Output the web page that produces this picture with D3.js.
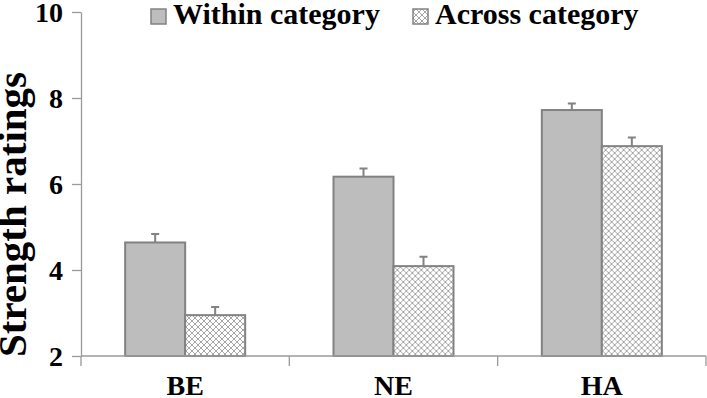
<!DOCTYPE html>
<html>
<head>
<meta charset="utf-8">
<script src="https://cdn.jsdelivr.net/npm/d3@7"></script>
<style>
  body { margin: 0; background: #fff; }
  text { font-family: "Liberation Serif", "Times New Roman", serif; font-weight: bold; fill: #000; }
</style>
</head>
<body>
<div id="chart"></div>
<script>
var categories = ["BE", "NE", "HA"];
var seriesNames = ["Within category", "Across category"];
var withinValues = [4.64, 6.17, 7.72];
var withinErrors = [0.20, 0.19, 0.15];
var acrossValues = [2.95, 4.09, 6.88];
var acrossErrors = [0.19, 0.22, 0.20];
var yTicks = [2, 4, 6, 8, 10];

var width = 707, height = 398;
var plotLeft = 81, plotRight = 706, plotTop = 12, plotBottom = 356;

var svg = d3.select("#chart").append("svg")
    .attr("width", width)
    .attr("height", height);

// patterns
var defs = svg.append("defs");
var hatch = defs.append("pattern")
    .attr("id", "hatch")
    .attr("patternUnits", "userSpaceOnUse")
    .attr("width", 6)
    .attr("height", 6);
hatch.append("rect").attr("width", 6).attr("height", 6).attr("fill", "#fff");
hatch.append("path")
    .attr("d", "M0,0L6,6M6,0L0,6")
    .attr("stroke", "#a6a6a6")
    .attr("stroke-width", 1);

var fills = ["#bdbdbd", "url(#hatch)"];

var x = d3.scaleBand()
    .domain(categories)
    .range([plotLeft, plotRight])
    .padding(0);

var x1 = d3.scaleBand()
    .domain(seriesNames)
    .range([0, x.bandwidth()])
    .paddingInner(0)
    .paddingOuter(0.736);

var y = d3.scaleLinear()
    .domain([2, 10])
    .range([plotBottom, plotTop]);

var data = categories.map(function(c, i) {
    return [
        {cat: c, s: seriesNames[0], v: withinValues[i], e: withinErrors[i]},
        {cat: c, s: seriesNames[1], v: acrossValues[i], e: acrossErrors[i]}
    ];
});

// y axis
var yAxis = svg.append("g")
    .attr("transform", "translate(" + plotLeft + ",0)")
    .call(d3.axisLeft(y).tickValues(yTicks).tickSize(9).tickSizeOuter(0).tickPadding(9));
yAxis.select(".domain").attr("stroke", "#9a9a9a").attr("stroke-width", 1.3);
yAxis.selectAll(".tick line").attr("stroke", "#9a9a9a").attr("stroke-width", 1.3);
yAxis.selectAll(".tick text")
    .style("font-size", "28px")
    .attr("dy", "0.35em");

// bars
var groups = svg.append("g")
    .selectAll("g")
    .data(data)
    .enter().append("g")
    .attr("transform", function(d) { return "translate(" + x(d[0].cat) + ",0)"; });

groups.selectAll("rect")
    .data(function(d) { return d; })
    .enter().append("rect")
    .attr("x", function(d) { return x1(d.s); })
    .attr("y", function(d) { return y(d.v); })
    .attr("width", x1.bandwidth())
    .attr("height", function(d) { return y(2) - y(d.v); })
    .attr("fill", function(d, i) { return fills[i]; })
    .attr("stroke", "#828282")
    .attr("stroke-width", 2);

// error bars (upper only)
groups.selectAll("path.err")
    .data(function(d) { return d; })
    .enter().append("path")
    .attr("class", "err")
    .attr("d", function(d) {
        var cx = x1(d.s) + x1.bandwidth() / 2;
        return "M" + cx + "," + y(d.v) + "V" + y(d.v + d.e) +
            "M" + (cx - 4) + "," + y(d.v + d.e) + "H" + (cx + 4);
    })
    .attr("fill", "none")
    .attr("stroke", "#828282")
    .attr("stroke-width", 2);

// x axis
var xAxis = svg.append("g")
    .attr("transform", "translate(0," + plotBottom + ")");
xAxis.append("line")
    .attr("x1", plotLeft).attr("x2", plotRight)
    .attr("stroke", "#9a9a9a").attr("stroke-width", 1.3);
var bounds = categories.map(function(c) { return x(c); }).concat([plotRight]);
xAxis.selectAll("line.sep")
    .data(bounds)
    .enter().append("line")
    .attr("class", "sep")
    .attr("x1", function(d) { return d; })
    .attr("x2", function(d) { return d; })
    .attr("y1", 0).attr("y2", 10)
    .attr("stroke", "#9a9a9a").attr("stroke-width", 1.3);
xAxis.selectAll("text")
    .data(categories)
    .enter().append("text")
    .attr("x", function(d) { return x(d) + x.bandwidth() / 2; })
    .attr("y", 39)
    .attr("text-anchor", "middle")
    .style("font-size", "28px")
    .text(function(d) { return d; });

// y label
svg.append("text")
    .attr("transform", "translate(26," + ((72 + 357) / 2) + ") rotate(-90)")
    .attr("text-anchor", "middle")
    .style("font-size", "41px")
    .text("Strength ratings");

// legend
var legendX = [151, 413];
var legend = svg.append("g")
    .selectAll("g")
    .data(seriesNames)
    .enter().append("g")
    .attr("transform", function(d, i) { return "translate(" + legendX[i] + ",0)"; });
legend.append("rect")
    .attr("x", 0).attr("y", 9)
    .attr("width", 15).attr("height", 15)
    .attr("fill", function(d, i) { return fills[i]; })
    .attr("stroke", "#828282")
    .attr("stroke-width", 1.5);
legend.append("text")
    .attr("x", 22)
    .attr("y", 24)
    .style("font-size", "30px")
    .text(function(d) { return d; });
</script>
</body>
</html>
